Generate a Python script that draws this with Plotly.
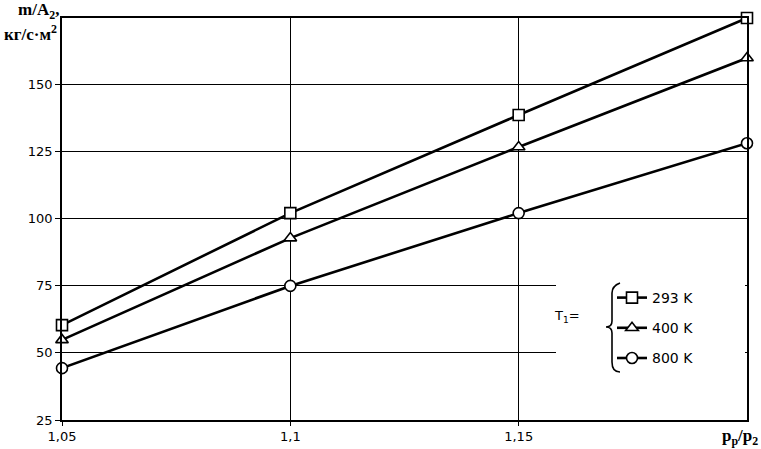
import plotly.graph_objects as go

# pressure ratio p_p / p_2
ratio = [1.05, 1.1, 1.15, 1.2]

# specific mass flow m/A2, kg/(s*m2), per inlet temperature
flow_293 = [60.3, 102.0, 138.5, 174.6]
flow_400 = [54.8, 92.7, 126.6, 159.7]
flow_800 = [44.3, 74.9, 102.0, 128.0]

series_names = ["293 K", "400 K", "800 K"]
series_symbols = ["square", "triangle-up", "circle"]

x_ticks = [1.05, 1.1, 1.15]
x_labels = ["1,05", "1,1", "1,15"]
y_ticks = [25, 50, 75, 100, 125, 150]

W, H = 761, 449
L, R, T, B = 62, 14, 18, 29
TICK_FONT = dict(family="DejaVu Sans, Arial, sans-serif", size=13, color="black")
LEG_FONT = dict(family="DejaVu Sans, Arial, sans-serif", size=14, color="black")
TITLE_FONT = dict(family="Liberation Serif, Times New Roman, serif", size=17, color="black")


def px_to_paper(px, py):
    return (px - L) / (W - L - R), (H - B - py) / (H - T - B)


fig = go.Figure()
for name, ys, sym in zip(series_names, [flow_293, flow_400, flow_800], series_symbols):
    fig.add_trace(
        go.Scatter(
            x=ratio,
            y=ys,
            name=name,
            mode="lines+markers",
            legendgroup=name,
            line=dict(color="black", width=2.6),
            marker=dict(symbol=sym, size=11, color="white", line=dict(color="black", width=1.6)),
            cliponaxis=False,
        )
    )

# white patch behind the legend (hides grid lines there)
x0, y0 = px_to_paper(556, 380)
x1, y1 = px_to_paper(745, 272)
fig.add_shape(type="rect", xref="paper", yref="paper", x0=x0, y0=y0, x1=x1, y1=y1,
              fillcolor="white", line=dict(width=0), layer="above")

# curly brace
pts = [(620, 283), (612, 286), (612, 293), (612, 321), (606, 327), (612, 333),
       (612, 362), (612, 369), (620, 372)]
pp = [px_to_paper(a, b) for a, b in pts]
path = (f"M {pp[0][0]},{pp[0][1]} Q {pp[1][0]},{pp[1][1]} {pp[2][0]},{pp[2][1]} "
        f"L {pp[3][0]},{pp[3][1]} Q {pp[3][0]},{pp[4][1]} {pp[4][0]},{pp[4][1]} "
        f"Q {pp[5][0]},{pp[4][1]} {pp[5][0]},{pp[5][1]} L {pp[6][0]},{pp[6][1]} "
        f"Q {pp[7][0]},{pp[8][1]} {pp[8][0]},{pp[8][1]}")
fig.add_shape(type="path", xref="paper", yref="paper", path=path,
              line=dict(color="black", width=1.6), layer="above")

tx, ty = px_to_paper(582, 327)
fig.add_annotation(text="T<sub>1</sub>=", xref="paper", yref="paper", x=tx, y=ty,
                   showarrow=False, font=dict(LEG_FONT, size=13))

# axis titles
ax_, ay_ = px_to_paper(61, 11)
fig.add_annotation(text="<b>m/A<sub>2</sub>,</b>", xref="paper", yref="paper", x=ax_, y=ay_,
                   xanchor="right", yanchor="middle", showarrow=False, font=TITLE_FONT)
ax_, ay_ = px_to_paper(59, 33)
fig.add_annotation(text="<b>кг/с·м<sup>2</sup></b>", xref="paper", yref="paper", x=ax_, y=ay_,
                   xanchor="right", yanchor="middle", showarrow=False, font=TITLE_FONT)
fig.add_annotation(text="<b>p<sub>p</sub>/p<sub>2</sub></b>", xref="x", yref="paper", x=1.2, y=0,
                   yshift=-17, xshift=13, xanchor="right", yanchor="middle", showarrow=False,
                   font=TITLE_FONT)

lx, ly = px_to_paper(612, 282)
fig.update_layout(
    width=W,
    height=H,
    margin=dict(l=L, r=R, t=T, b=B, autoexpand=False),
    paper_bgcolor="white",
    plot_bgcolor="white",
    separators=", ",
    font=TICK_FONT,
    showlegend=True,
    legend=dict(
        x=lx, y=ly, xanchor="left", yanchor="top",
        bgcolor="rgba(0,0,0,0)", font=LEG_FONT,
        tracegroupgap=9, itemwidth=30,
    ),
)
fig.update_xaxes(
    range=[1.05, 1.2], tickvals=x_ticks, ticktext=x_labels,
    showgrid=True, gridcolor="black", gridwidth=1,
    showline=True, linecolor="black", linewidth=1.5, mirror=True,
    ticks="outside", ticklen=4, tickcolor="black", zeroline=False,
    tickfont=TICK_FONT, automargin=False,
)
fig.update_yaxes(
    range=[25, 174.6], tickvals=y_ticks,
    showgrid=True, gridcolor="black", gridwidth=1,
    showline=True, linecolor="black", linewidth=1.5, mirror=True,
    ticks="outside", ticklen=5, tickcolor="black", zeroline=False,
    tickfont=TICK_FONT, automargin=False,
)

# page body has a default 8px margin; drop it so the figure fills the window
fig.write_html(
    "out.html",
    config={"displayModeBar": False},
    post_script="document.body.style.margin='0';",
)
